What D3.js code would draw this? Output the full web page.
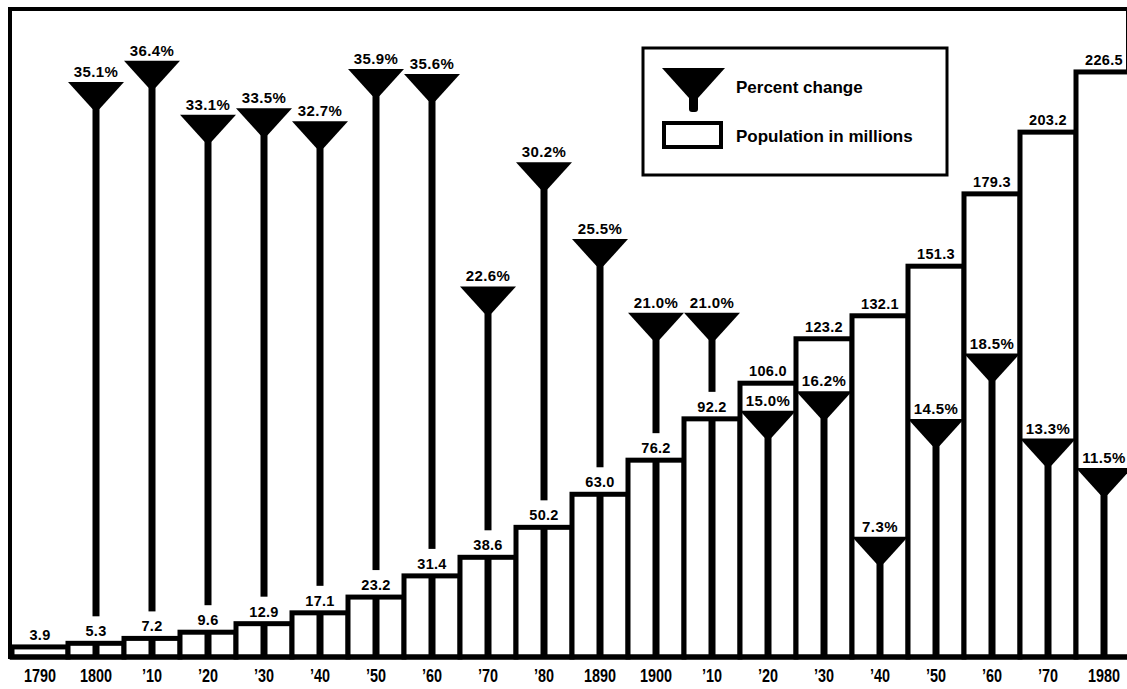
<!DOCTYPE html>
<html>
<head>
<meta charset="utf-8">
<script src="https://cdn.jsdelivr.net/npm/d3@7"></script>
<style>
  html, body { margin: 0; padding: 0; background: #fff; }
  svg { display: block; }
  text { font-family: "Liberation Sans", Arial, sans-serif; font-weight: bold; fill: #000; }
</style>
</head>
<body>
<svg id="chart" width="1127" height="689"></svg>
<script>
// Census years (categories)
const years = [1790, 1800, 1810, 1820, 1830, 1840, 1850, 1860, 1870, 1880,
               1890, 1900, 1910, 1920, 1930, 1940, 1950, 1960, 1970, 1980];
// Axis tick labels under each bar
const yearLabels = ["1790", "1800", "\u201910", "\u201920", "\u201930", "\u201940", "\u201950",
                    "\u201960", "\u201970", "\u201980", "1890", "1900", "\u201910", "\u201920",
                    "\u201930", "\u201940", "\u201950", "\u201960", "\u201970", "1980"];
// Resident population, millions
const population = [3.9, 5.3, 7.2, 9.6, 12.9, 17.1, 23.2, 31.4, 38.6, 50.2,
                    63.0, 76.2, 92.2, 106.0, 123.2, 132.1, 151.3, 179.3, 203.2, 226.5];
// Percent change from the previous census (first census has no prior)
const changeYears = [1800, 1810, 1820, 1830, 1840, 1850, 1860, 1870, 1880, 1890,
                     1900, 1910, 1920, 1930, 1940, 1950, 1960, 1970, 1980];
const percentChange = [35.1, 36.4, 33.1, 33.5, 32.7, 35.9, 35.6, 22.6, 30.2, 25.5,
                       21.0, 21.0, 15.0, 16.2, 7.3, 14.5, 18.5, 13.3, 11.5];

const svg = d3.select("#chart");
const W = 1127;
const baseY = 657;

const x = d3.scaleBand().domain(years).range([12, 1132]).padding(0);
const yPop = d3.scaleLinear().domain([0, 250]).range([baseY, baseY - 250 * 2.583]);
const yPct = d3.scaleLinear().domain([0, 40]).range([656, 656 - 40 * 16.35]);

const popData = years.map((yr, i) => ({ year: yr, label: yearLabels[i], value: population[i] }));
const pctData = changeYears.map((yr, i) => ({
  year: yr, pct: percentChange[i], pop: population[years.indexOf(yr)]
}));
const cx = yr => x(yr) + x.bandwidth() / 2;

// Outer frame
svg.append("rect")
  .attr("x", 10).attr("y", 9)
  .attr("width", 1118).attr("height", baseY - 9)
  .attr("fill", "none").attr("stroke", "#000").attr("stroke-width", 4);

// Population bars (stepped, sharing walls)
svg.append("g").selectAll("rect")
  .data(popData)
  .join("rect")
  .attr("x", d => x(d.year))
  .attr("y", d => yPop(d.value))
  .attr("width", x.bandwidth())
  .attr("height", d => baseY - yPop(d.value))
  .attr("fill", "#fff")
  .attr("stroke", "#000")
  .attr("stroke-width", 5);

// Baseline
svg.append("line")
  .attr("x1", 10).attr("x2", W)
  .attr("y1", baseY).attr("y2", baseY)
  .attr("stroke", "#000").attr("stroke-width", 5);

// Percent-change funnels with stems
const funnelW = 56, funnelH = 27, stemW = 7, labelGap = 27;
const fg = svg.append("g");
pctData.forEach(d => {
  const c = cx(d.year);
  const top = yPct(d.pct);
  const barTop = yPop(d.pop);
  const apex = top + funnelH;
  fg.append("path")
    .attr("d", `M${c - funnelW / 2},${top} L${c + funnelW / 2},${top} L${c + stemW / 2},${apex} L${c - stemW / 2},${apex} Z`)
    .attr("fill", "#000");
  if (top < barTop) {
    // stem above the bar, broken for the population label, then continuing inside the bar
    fg.append("rect")
      .attr("x", c - stemW / 2).attr("y", apex - 2)
      .attr("width", stemW).attr("height", Math.max(0, barTop - labelGap - apex + 2))
      .attr("fill", "#000");
    fg.append("rect")
      .attr("x", c - stemW / 2).attr("y", barTop)
      .attr("width", stemW).attr("height", baseY - barTop)
      .attr("fill", "#000");
  } else {
    fg.append("rect")
      .attr("x", c - stemW / 2).attr("y", apex - 2)
      .attr("width", stemW).attr("height", baseY - apex + 2)
      .attr("fill", "#000");
  }
  fg.append("text")
    .attr("x", c).attr("y", top - 5)
    .attr("text-anchor", "middle")
    .attr("font-size", 15)
    .attr("letter-spacing", 0.4)
    .text(d.pct.toFixed(1) + "%");
});

// Population value labels
svg.append("g").selectAll("text")
  .data(popData)
  .join("text")
  .attr("x", d => cx(d.year))
  .attr("y", d => yPop(d.value) - 7)
  .attr("text-anchor", "middle")
  .attr("font-size", 14.5)
  .attr("letter-spacing", 0.3)
  .text(d => d.value.toFixed(1));

// Year axis labels (condensed)
svg.append("g").selectAll("text")
  .data(popData)
  .join("text")
  .attr("transform", d => `translate(${cx(d.year)},682) scale(0.8,1)`)
  .attr("text-anchor", "middle")
  .attr("font-size", 18)
  .text(d => d.label);

// Legend
const lg = svg.append("g");
lg.append("rect")
  .attr("x", 643).attr("y", 48).attr("width", 304).attr("height", 127)
  .attr("fill", "#fff").attr("stroke", "#000").attr("stroke-width", 3);
lg.append("path")
  .attr("d", "M662,68 L725,68 L698,98 L689,98 Z")
  .attr("fill", "#000");
lg.append("rect")
  .attr("x", 689).attr("y", 95).attr("width", 9).attr("height", 17).attr("rx", 3)
  .attr("fill", "#000");
lg.append("rect")
  .attr("x", 664).attr("y", 123).attr("width", 57).attr("height", 24)
  .attr("fill", "#fff").attr("stroke", "#000").attr("stroke-width", 4);
lg.append("text").attr("x", 736).attr("y", 93).attr("font-size", 17).text("Percent change");
lg.append("text").attr("x", 736).attr("y", 142).attr("font-size", 17).text("Population in millions");
</script>
</body>
</html>
